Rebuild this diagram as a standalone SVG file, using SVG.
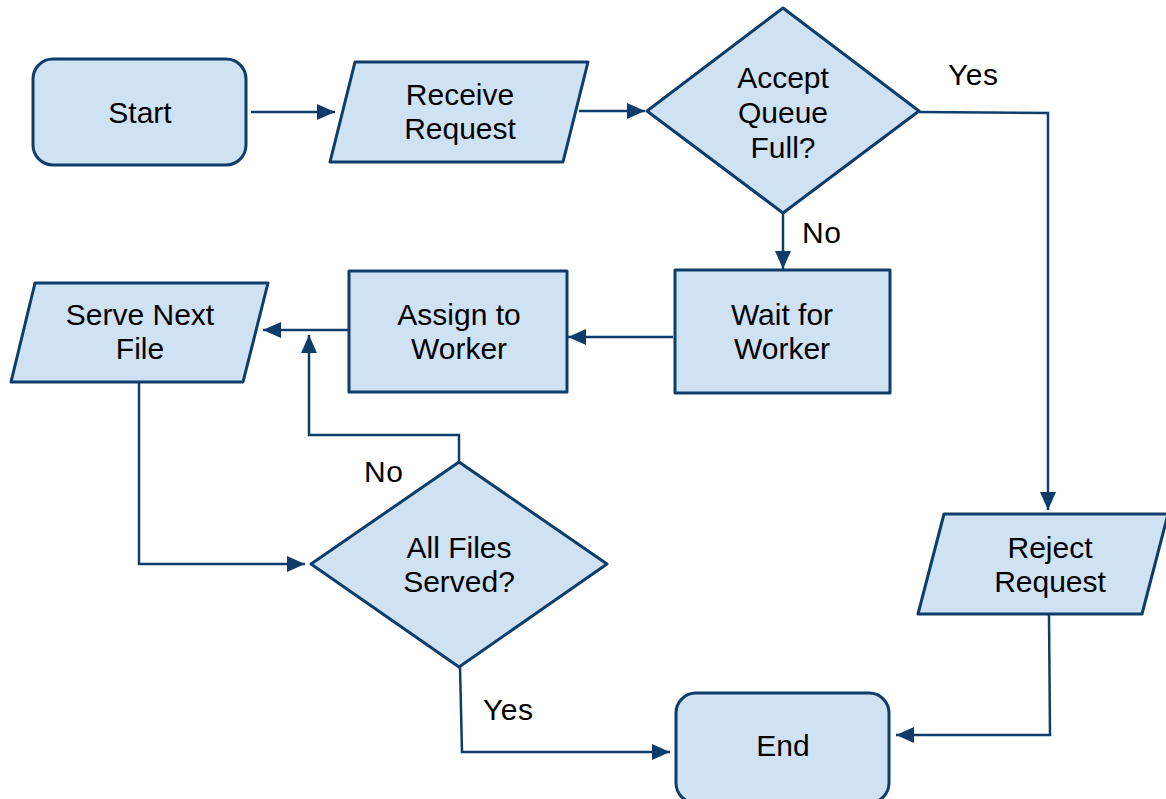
<svg xmlns="http://www.w3.org/2000/svg" width="1166" height="799" viewBox="0 0 1166 799">
<style>
.n{fill:#cfe2f3;stroke:#0e3d6b;stroke-width:3;stroke-linejoin:round}
.t{font-family:"Liberation Sans",Arial,sans-serif;font-size:30px;fill:#000;text-anchor:middle}
.c{fill:none;stroke:#0e3d6b;stroke-width:2.5}
.l{font-family:"Liberation Sans",Arial,sans-serif;font-size:30px;fill:#000;letter-spacing:0.5px}
</style>
<defs>
<marker id="a" markerUnits="userSpaceOnUse" markerWidth="20" markerHeight="16" refX="18" refY="8" orient="auto">
<path d="M0,0 L18,8 L0,16 Z" fill="#0e3d6b"/>
</marker>
</defs>
<rect width="1166" height="799" fill="#fff"/>
<g id="connectors">
<path class="c" d="M251,112 L335,112" marker-end="url(#a)"/>
<path class="c" d="M579,111 L645,111" marker-end="url(#a)"/>
<path class="c" d="M919,112 L1048,113 L1048,510" marker-end="url(#a)"/>
<path class="c" d="M783,213 L783,269" marker-end="url(#a)"/>
<path class="c" d="M673,337 L568,337" marker-end="url(#a)"/>
<path class="c" d="M349,330 L263,330" marker-end="url(#a)"/>
<path class="c" d="M459,462 L459,435 L309,435 L309,335" marker-end="url(#a)"/>
<path class="c" d="M139,382 L139,564 L305,564" marker-end="url(#a)"/>
<path class="c" d="M460,667 L462,752 L670,752" marker-end="url(#a)"/>
<path class="c" d="M1049,615 L1050,735 L896,735" marker-end="url(#a)"/>
<text class="l" x="948" y="85">Yes</text>
<text class="l" x="802" y="243">No</text>
<text class="l" x="364" y="482">No</text>
<text class="l" x="483" y="720">Yes</text>
</g>
<g id="start">
<rect class="n" x="33" y="59" width="213" height="106" rx="20"/>
<text class="t" x="140" y="123">Start</text>
</g>
<g id="receive">
<polygon class="n" points="355,62 588,62 563,162 330,162"/>
<text class="t" x="460" y="105">Receive</text>
<text class="t" x="460" y="139">Request</text>
</g>
<g id="queue">
<polygon class="n" points="783,8 919,111 783,213 647,111"/>
<text class="t" x="783" y="88">Accept</text>
<text class="t" x="783" y="123">Queue</text>
<text class="t" x="783" y="158">Full?</text>
</g>
<g id="wait">
<rect class="n" x="675" y="270" width="215" height="123"/>
<text class="t" x="782" y="325">Wait for</text>
<text class="t" x="782" y="359">Worker</text>
</g>
<g id="assign">
<rect class="n" x="349" y="271" width="218" height="121"/>
<text class="t" x="459" y="325">Assign to</text>
<text class="t" x="459" y="359">Worker</text>
</g>
<g id="serve">
<polygon class="n" points="35,283 268,283 243,382 11,382"/>
<text class="t" x="140" y="325">Serve Next</text>
<text class="t" x="140" y="359">File</text>
</g>
<g id="allserved">
<polygon class="n" points="459,462 607,564 459,667 311,564"/>
<text class="t" x="459" y="558">All Files</text>
<text class="t" x="459" y="592">Served?</text>
</g>
<g id="reject">
<polygon class="n" points="944,514 1168,514 1142,614 918,614"/>
<text class="t" x="1050" y="558">Reject</text>
<text class="t" x="1050" y="592">Request</text>
</g>
<g id="end">
<rect class="n" x="676" y="693" width="213" height="110" rx="20"/>
<text class="t" x="783" y="756">End</text>
</g>
</svg>
